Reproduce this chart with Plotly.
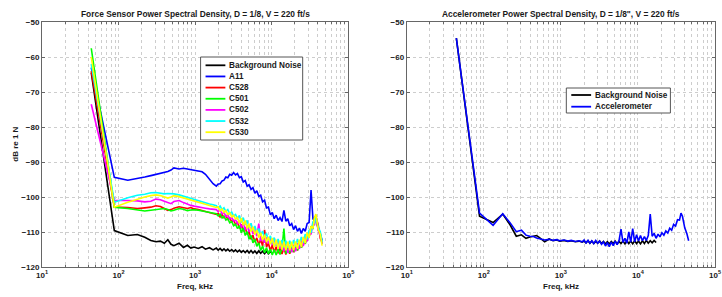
import plotly.graph_objects as go

# ---------------- data ----------------
FREQ_KHZ = [44, 88, 132, 176, 220, 264, 308, 352, 396, 440, 484, 528, 616, 704, 792, 880, 968,
            1100, 1232, 1364, 1540, 1716, 1892,
            2000, 2120, 2250, 2380, 2520, 2670, 2830, 3000, 3180, 3370,
            3570, 3790, 4010, 4250, 4510, 4780, 5060, 5370, 5690, 6030,
            6390, 6780, 7180, 7610, 8070, 8550, 9060, 9610, 10180, 10790,
            11440, 12130, 12850, 13620, 14440, 15300, 16220, 17200, 18230, 19320,
            20480, 21710, 23010, 24390, 25850, 27400, 29050, 30790, 32640, 34600,
            36200, 37800, 40500, 43200, 45500]

LEFT_BACKGROUND = [-64.5, -109.6, -111.0, -110.7, -111.5, -112.4, -112.8, -112.6, -113.2, -112.2, -113.5, -113.9,
                   -113.2, -114.4, -113.8, -114.6, -114.3, -114.7, -114.2, -114.9, -114.5, -115.1, -114.6,
                   -115.2, -114.7, -115.3, -114.8, -115.4, -114.9, -115.5, -115.0, -115.6, -115.1,
                   -115.7, -115.2, -115.8, -115.3, -115.9, -115.3, -116.0, -115.3, -116.0, -115.4,
                   -116.1, -115.4, -116.1, -115.5, -116.2, -115.5, -116.2, -115.6, -116.0,
                   None, None, None, None, None, None, None, None, None, None, None, None, None,
                   None, None, None, None, None, None, None, None, None, None, None, None, None]
A11 = [-63.0, -94.4, -95.2, -94.8, -94.3, -93.9, -93.6, -93.3, -93.0, -92.7, -92.3, -91.7, -92.0, -91.8, -92.0,
       -92.2, -92.4, -92.6, -92.8, -93.5, -94.8, -96.2, -96.9,
       -96.3, -96.2, -95.4, -95.2, -94.3, -94.5, -93.5, -93.8, -93.0, -93.7,
       -93.3, -94.5, -94.2, -95.7, -95.3, -96.9, -96.5, -97.8, -97.3, -98.9,
       -98.2, -99.8, -99.5, -101.4, -100.9, -103.1, -102.9, -105.1, -104.4, -106.2,
       -105.2, -106.7, -105.9, -107.0, -103.8, -106.9, -106.2, -108.2, -107.6, -109.3,
       -108.2, -109.8, -108.9, -110.4, -109.0, -109.8, -107.6, -107.3, -98.0, -106.4,
       -106.0, -106.8, -108.9, -111.0, -112.3]
C528 = [-64.0, -102.9, -103.0, -103.3, -103.1, -102.9, -102.5, -102.7, -103.3, -103.8, -103.6, -103.2, -102.8,
        -103.0, -103.3, -103.0, -103.4, -103.6, -103.9, -104.1, -104.3, -104.6, -105.0,
        -104.7, -105.7, -105.0, -105.9, -105.3, -106.4, -106.0, -107.1, -106.7, -107.8,
        -107.3, -109.0, -107.8, -109.8, -108.7, -110.7, -109.8, -112.1, -110.9, -112.9,
        -111.7, -113.6, -112.2, -114.0, -109.4, -114.3, -113.2, -115.3, -113.8, -115.8,
        -114.2, -116.1, -114.4, -116.3, -114.6, -116.4, -114.5, -116.2, -114.2, -115.8,
        -113.8, -115.3, -113.1, -114.5, -112.2, -113.4, -110.7, -111.4, -108.4, -108.9,
        -106.0, -105.6, -108.0, -111.9, -112.7]
C501 = [-57.5, -102.9, -103.3, -103.7, -104.0, -103.8, -103.6, -103.5, -103.3, -103.6, -104.0, -103.8, -103.3,
        -103.5, -103.9, -103.7, -103.6, -103.8, -104.0, -104.2, -104.4, -104.6, -104.8,
        -105.4, -104.9, -106.0, -105.5, -106.6, -106.2, -107.4, -107.0, -108.2, -107.8,
        -109.0, -108.2, -110.2, -108.8, -111.0, -109.9, -112.0, -111.0, -113.1, -112.0,
        -114.1, -113.1, -115.3, -114.0, -115.9, -114.5, -116.3, -114.9, -116.6, -115.0,
        -116.6, -114.9, -116.4, -114.7, -109.0, -116.2, -114.5, -115.9, -114.2, -115.6,
        -113.9, -115.2, -113.3, -114.5, -112.4, -113.4, -111.0, -111.4, -108.6, -108.9,
        -106.0, -105.6, -109.4, -110.5, -113.4]
C502 = [-73.5, -101.0, -101.0, -101.1, -101.4, -101.2, -100.6, -100.8, -101.2, -101.6, -101.9, -101.3, -101.0,
        -101.6, -102.1, -102.4, -102.6, -102.9, -103.0, -103.2, -103.4, -103.5, -103.6,
        -104.2, -103.7, -104.8, -104.4, -105.6, -105.1, -106.3, -105.8, -106.9, -106.5,
        -107.6, -106.8, -108.7, -107.4, -109.4, -108.1, -110.0, -108.7, -110.6, -109.3,
        -111.2, -107.6, -112.6, -111.5, -113.1, -111.6, -113.3, -111.8, -113.7, -111.8,
        -114.1, -112.4, -114.8, -113.1, -115.4, -113.7, -116.0, -113.9, -115.8, -113.6,
        -115.5, -113.2, -114.8, -112.4, -114.0, -111.4, -112.7, -109.9, -110.7, -107.4,
        -108.0, -105.5, -109.6, -111.0, -113.4]
C532 = [-62.0, -101.5, -100.2, -99.5, -99.2, -98.8, -98.7, -98.9, -99.1, -99.0, -99.0, -99.1, -99.4,
        -99.8, -100.2, -100.5, -100.7, -101.0, -101.3, -101.7, -102.0, -102.2, -102.5,
        -103.1, -102.6, -103.6, -103.1, -104.1, -103.6, -104.8, -104.3, -105.4, -105.0,
        -106.1, -105.3, -107.2, -105.9, -107.9, -106.7, -108.7, -107.5, -109.5, -108.3,
        -110.3, -109.0, -111.0, -109.7, -111.7, -110.4, -112.4, -111.1, -113.2, -111.6,
        -113.9, -112.0, -114.1, -112.3, -114.4, -112.5, -114.5, -112.5, -114.4, -112.3,
        -114.2, -112.0, -113.8, -111.4, -113.0, -110.6, -112.1, -109.4, -110.2, -107.0,
        -107.6, -105.6, -108.6, -110.0, -112.8]
C530 = [-60.0, -102.9, -101.5, -100.6, -100.0, -99.6, -99.4, -99.6, -100.0, -100.3, -100.0, -99.6, -99.9,
        -100.3, -100.6, -100.9, -101.2, -101.5, -101.8, -102.1, -102.4, -102.7, -103.0,
        -102.8, -103.9, -103.4, -104.4, -103.9, -105.0, -104.5, -105.7, -105.2, -106.3,
        -105.8, -107.5, -106.0, -108.1, -106.7, -109.0, -107.6, -109.9, -108.5, -110.7,
        -109.4, -111.6, -110.2, -112.3, -110.8, -112.9, -111.4, -113.5, -111.7, -114.4,
        -112.2, -114.8, -112.5, -115.0, -112.8, -115.2, -112.8, -115.2, -112.8, -115.2,
        -112.7, -114.8, -112.2, -114.3, -111.4, -113.2, -110.2, -111.7, -108.3, -109.0,
        -105.9, -104.9, -109.3, -110.8, -113.9]

RIGHT_BACKGROUND = [-54.6, -105.5, -107.3, -104.9, -108.0, -111.2, -110.8, -111.8, -111.4, -111.2, -111.0, -111.6,
                    -112.8, -112.0, -112.5, -112.3, -112.6, -112.4, -112.7, -112.5, -112.8, -112.6, -112.9,
                    -112.6, -113.1, -112.5, -113.2, -112.6, -113.3, -112.7, -113.2, -112.6, -113.3,
                    -112.7, -113.4, -112.8, -113.4, -112.7, -113.3, -112.6, -113.4, -112.7, -113.3,
                    -112.6, -113.4, -112.5, -113.3, -112.6, -113.4, -112.5, -113.3, -112.6, -113.4,
                    -112.5, -113.3, -112.4, -113.2, -112.5, -113.1, -112.4, -113.0,
                    None, None, None, None, None, None, None, None, None, None, None, None, None,
                    None, None, None, None]
ACCELEROMETER = [-54.6, -104.6, -108.1, -104.8, -107.4, -109.9, -109.5, -110.9, -111.2, -111.3, -111.7, -111.9,
                 -112.3, -112.1, -112.4, -112.2, -112.5, -112.3, -112.6, -112.4, -112.7, -112.5, -112.8,
                 -112.3, -113.1, -112.4, -113.2, -112.5, -113.3, -112.4, -113.2, -112.6, -113.5,
                 -112.8, -114.0, -113.0, -114.2, -112.9, -113.9, -112.6, -113.6, -112.4, -109.2,
                 -113.0, -111.8, -113.2, -110.0, -112.9, -109.0, -112.8, -110.8, -112.6, -111.0,
                 -112.5, -111.3, -112.4, -111.0, -104.9, -111.2, -110.4, -111.8, -110.6, -111.4,
                 -110.2, -110.9, -109.7, -110.3, -108.9, -109.5, -107.8, -108.3, -106.5, -106.6,
                 -104.6, -105.5, -108.8, -110.5, -112.5]

LEFT_NAMES = ["Background Noise", "A11", "C528", "C501", "C502", "C532", "C530"]
LEFT_SERIES = [LEFT_BACKGROUND, A11, C528, C501, C502, C532, C530]
LEFT_COLORS = ["#000000", "#0000ff", "#ff0000", "#00ff00", "#ff00ff", "#00ffff", "#ffff00"]
RIGHT_NAMES = ["Background Noise", "Accelerometer"]
RIGHT_SERIES = [RIGHT_BACKGROUND, ACCELEROMETER]
RIGHT_COLORS = ["#000000", "#0000ff"]

X_TICK_VALS = [10, 100, 1000, 10000, 100000]
X_TICK_TEXT = ["10<sup>1</sup>", "10<sup>2</sup>", "10<sup>3</sup>", "10<sup>4</sup>", "10<sup>5</sup>"]
Y_TICK_VALS = [-120, -110, -100, -90, -80, -70, -60, -50]

LEFT_TITLE = "Force Sensor Power Spectral Density, D = 1/8, V = 220 ft/s"
RIGHT_TITLE = "Accelerometer Power Spectral Density, D = 1/8\", V = 220 ft/s"
X_LABEL = "Freq, kHz"
Y_LABEL = "dB re 1 N"

# ---------------- layout helpers ----------------
W, H = 722, 297
ML, MR, MT, MB = 42, 1, 22, 30
PW = W - ML - MR
PH = H - MT - MB


def px(xp):
    return (xp - ML) / PW


def py(yp):
    return (H - MB - yp) / PH


FONT = "Liberation Sans, Arial, sans-serif"
TXT = "#1a1a1a"
GRID = "#cdcdcd"
AXIS = "#666666"

fig = go.Figure()
for name, vals, color in zip(LEFT_NAMES, LEFT_SERIES, LEFT_COLORS):
    fig.add_trace(go.Scatter(x=FREQ_KHZ, y=vals, mode="lines", name=name,
                             line=dict(color=color, width=1.6), xaxis="x", yaxis="y",
                             showlegend=False, hoverinfo="skip"))
for name, vals, color in zip(RIGHT_NAMES, RIGHT_SERIES, RIGHT_COLORS):
    fig.add_trace(go.Scatter(x=FREQ_KHZ, y=vals, mode="lines", name=name,
                             line=dict(color=color, width=1.6), xaxis="x2", yaxis="y2",
                             showlegend=False, hoverinfo="skip"))

tickfont = dict(family=FONT, size=8, color=TXT, weight="bold")
xcommon = dict(type="log", range=[1, 5], tickmode="array", tickvals=X_TICK_VALS, ticktext=X_TICK_TEXT,
               ticks="inside", ticklen=3, tickcolor=AXIS, showline=True, mirror="ticks", linecolor=AXIS,
               linewidth=1, showgrid=True, gridcolor=GRID, griddash="dot", gridwidth=1, zeroline=False,
               tickfont=tickfont,
               minor=dict(ticks="inside", ticklen=2, tickcolor=AXIS, showgrid=True, gridcolor=GRID,
                          griddash="dot", gridwidth=1, dtick="D1"))
ycommon = dict(range=[-120, -50], tickmode="array", tickvals=Y_TICK_VALS, ticks="inside", ticklen=3,
               tickcolor=AXIS, showline=True, mirror="ticks", linecolor=AXIS, linewidth=1, showgrid=True,
               gridcolor=GRID, griddash="dot", gridwidth=1, zeroline=False, tickfont=tickfont)

LEFT_DOM = [0, px(351)]
RIGHT_DOM = [px(410), 1.0]

fig.update_layout(
    width=W, height=H, margin=dict(l=ML, r=MR, t=MT, b=MB),
    paper_bgcolor="white", plot_bgcolor="white",
    xaxis=dict(domain=LEFT_DOM, anchor="y", **xcommon),
    yaxis=dict(domain=[0, 1], anchor="x", **ycommon),
    xaxis2=dict(domain=RIGHT_DOM, anchor="y2", **xcommon),
    yaxis2=dict(domain=[0, 1], anchor="x2", **ycommon),
    showlegend=False,
)

title_font = dict(family=FONT, size=8.4, color=TXT, weight="bold")
label_font = dict(family=FONT, size=8, color=TXT, weight="bold")
annotations = []
for cx, t in [((LEFT_DOM[0] + LEFT_DOM[1]) / 2, LEFT_TITLE), ((RIGHT_DOM[0] + RIGHT_DOM[1]) / 2, RIGHT_TITLE)]:
    annotations.append(dict(text=t, x=cx, y=py(13.5), xref="paper", yref="paper", showarrow=False,
                            xanchor="center", yanchor="middle", font=title_font))
    annotations.append(dict(text=X_LABEL, x=cx, y=py(286.5), xref="paper", yref="paper", showarrow=False,
                            xanchor="center", yanchor="middle", font=label_font))
annotations.append(dict(text=Y_LABEL, x=px(15), y=py(144.5), xref="paper", yref="paper", showarrow=False,
                        textangle=-90, xanchor="center", yanchor="middle", font=label_font))

# legends drawn as boxes with short line samples
shapes = []
legend_font = dict(family=FONT, size=8.2, color=TXT, weight="bold")


def add_legend(x0, y0, x1, y1, row0, dy, line_x0, line_x1, text_x, names, colors):
    shapes.append(dict(type="rect", xref="paper", yref="paper", x0=px(x0), x1=px(x1), y0=py(y1), y1=py(y0),
                       line=dict(color="#555555", width=1), fillcolor="white", layer="above"))
    for i, (n, c) in enumerate(zip(names, colors)):
        yy = row0 + i * dy
        shapes.append(dict(type="line", xref="paper", yref="paper", x0=px(line_x0), x1=px(line_x1),
                           y0=py(yy), y1=py(yy), line=dict(color=c, width=1.8), layer="above"))
        annotations.append(dict(text=n, x=px(text_x), y=py(yy), xref="paper", yref="paper", showarrow=False,
                                xanchor="left", yanchor="middle", font=legend_font))


add_legend(202, 57, 305, 140, 65.3, 11.15, 207, 227, 228.5, LEFT_NAMES, LEFT_COLORS)
add_legend(571, 88, 676, 113, 95, 11.7, 576, 596, 597.5, RIGHT_NAMES, RIGHT_COLORS)

fig.update_layout(annotations=annotations, shapes=shapes)
fig.write_html("out.html", config={"displayModeBar": False, "staticPlot": True},
               post_script="document.body.style.margin='0';document.body.style.padding='0';")
